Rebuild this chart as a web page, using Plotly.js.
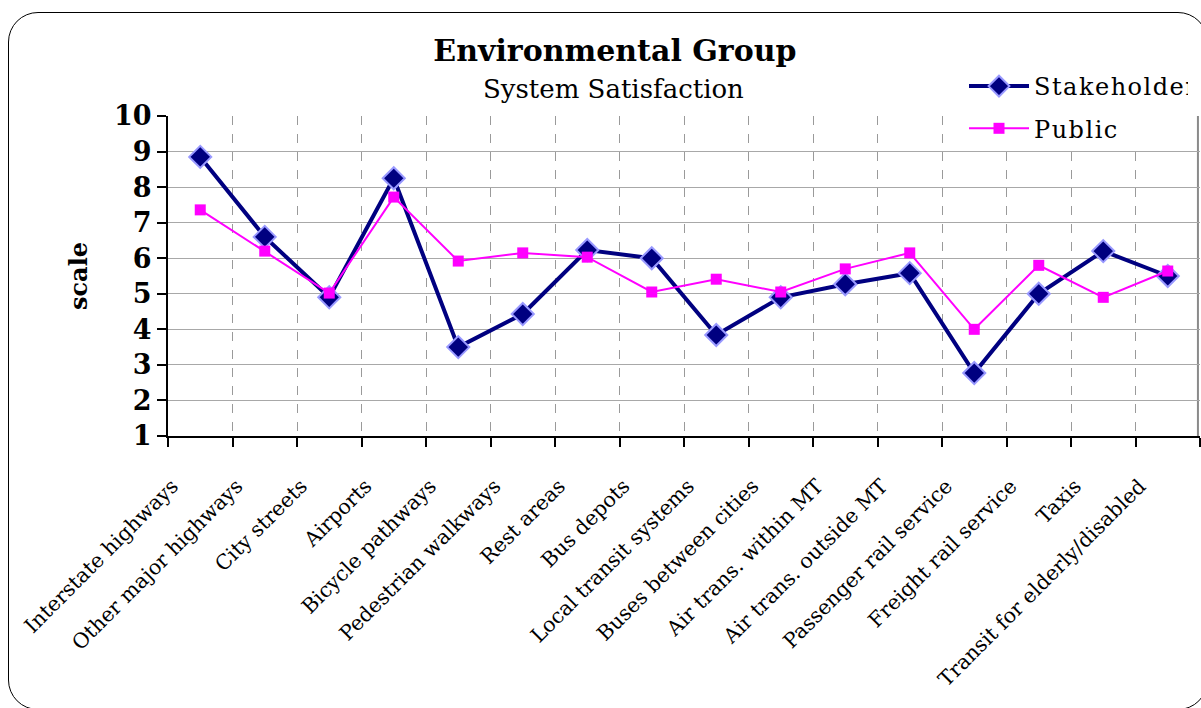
<!DOCTYPE html>
<html>
<head>
<meta charset="utf-8">
<script src="https://cdn.plot.ly/plotly-3.0.1.min.js"></script>
<style>
  html, body { margin: 0; padding: 0; background: #fff; overflow: hidden; }
  #frame { position: absolute; left: 8px; top: 12px; width: 1200px; height: 698px;
           border: 1.5px solid #000; border-radius: 30px; box-sizing: border-box; }
  #chart { position: absolute; left: 0; top: 0; width: 1201px; height: 708px; }
  #chart .legendtext { letter-spacing: 1.5px; }
</style>
</head>
<body>
<div id="frame"></div>
<div id="chart"></div>
<script>
const categories = [
  "Interstate highways", "Other major highways", "City streets", "Airports",
  "Bicycle pathways", "Pedestrian walkways", "Rest areas", "Bus depots",
  "Local transit systems", "Buses between cities", "Air trans. within MT",
  "Air trans. outside MT", "Passenger rail service", "Freight rail service",
  "Taxis", "Transit for elderly/disabled"
];
const stakeholder = [8.85, 6.6, 4.9, 8.25, 3.5, 4.43, 6.23, 6.0, 3.84, 4.9, 5.27, 5.58, 2.77, 5.0, 6.2, 5.5];
const publicVals  = [7.36, 6.2, 5.02, 7.72, 5.92, 6.15, 6.03, 5.05, 5.41, 5.05, 5.7, 6.15, 4.0, 5.8, 4.9, 5.64];
const yTicks = [1, 2, 3, 4, 5, 6, 7, 8, 9, 10];

const serif = "DejaVu Serif, Liberation Serif, serif";

const traces = [
  {
    name: "Stakeholder", legendgroup: "s", x: categories, y: stakeholder, type: "scatter", mode: "lines+markers",
    line: { color: "#000080", width: 4 },
    marker: { symbol: "diamond", size: 17, color: "#000080", line: { color: "#9999FF", width: 2 } }
  },
  {
    name: "Public", legendgroup: "p", x: categories, y: publicVals, type: "scatter", mode: "lines+markers",
    line: { color: "#FF00FF", width: 2 },
    marker: { symbol: "square", size: 11, color: "#FF00FF", line: { width: 0 } }
  }
];

const layout = {
  width: 1201, height: 708,
  margin: { l: 168, r: 1, t: 116, b: 272, pad: 0 },
  paper_bgcolor: "rgba(0,0,0,0)",
  plot_bgcolor: "rgba(0,0,0,0)",
  showlegend: true,
  title: {
    text: "<b>Environmental Group</b>",
    x: 0.512, xanchor: "center", xref: "container",
    y: 0.928, yanchor: "middle", yref: "container",
    font: { family: serif, size: 30, color: "#000" }
  },
  annotations: [{
    text: "System Satisfaction", xref: "paper", yref: "paper",
    x: (613 - 168) / 1032, y: (436 - 89) / 320, xanchor: "center", yanchor: "middle",
    showarrow: false, font: { family: serif, size: 26, color: "#000" }
  }],
  xaxis: {
    type: "category",
    range: [-0.5, 15.5],
    tickson: "boundaries",
    ticks: "outside", ticklen: 9, tickwidth: 2, tickcolor: "#000",
    showline: true, linecolor: "#000", linewidth: 2,
    showgrid: true, gridcolor: "#9a9a9a", griddash: "dash", gridwidth: 1,
    tickangle: -45,
    ticklabelstandoff: 28,
    ticklabelshift: -28,
    tickfont: { family: serif, size: 20.5, color: "#000" },
    automargin: false
  },
  yaxis: {
    range: [1, 10],
    tickvals: yTicks,
    ticks: "outside", ticklen: 9, tickwidth: 2, tickcolor: "#000",
    showline: true, linecolor: "#000", linewidth: 2,
    showgrid: true, gridcolor: "#a8a8a8", gridwidth: 1.2,
    zeroline: false,
    tickfont: { family: serif, size: 27, color: "#000", weight: "bold" },
    title: { text: "<b>scale</b>", font: { family: serif, size: 24, color: "#000" }, standoff: 20 },
    automargin: false
  },
  shapes: [{
    type: "line", xref: "paper", yref: "y", x0: 0.998, x1: 0.998, y0: 1, y1: 10,
    line: { color: "#8a8a8a", width: 2 }, layer: "below"
  }],
  legend: {
    x: (964 - 168) / 1032, y: (436 - 64) / 320, xanchor: "left", yanchor: "top",
    bgcolor: "#ffffff", borderwidth: 0,
    font: { family: serif, size: 24, color: "#000" },
    itemwidth: 60, tracegroupgap: 8
  }
};

Plotly.newPlot("chart", traces, layout, { displayModeBar: false, staticPlot: true });
</script>
</body>
</html>
